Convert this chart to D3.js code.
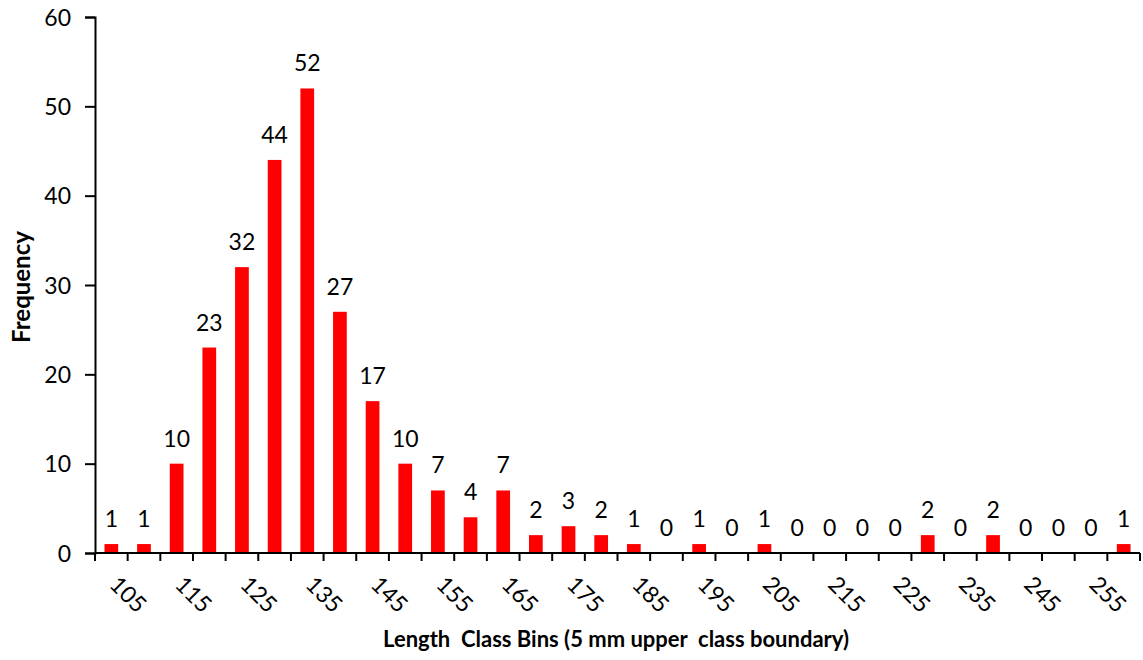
<!DOCTYPE html>
<html><head><meta charset="utf-8">
<script src="https://cdn.jsdelivr.net/npm/d3@7"></script>
<style>body{margin:0;background:#fff}svg{display:block}text{font-family:Lato,"Open Sans",sans-serif}</style>
</head><body>
<svg id="c" width="1143" height="660"></svg>
<script>
const categories = [105,110,115,120,125,130,135,140,145,150,155,160,165,170,175,180,185,190,195,200,205,210,215,220,225,230,235,240,245,250,255,260];
const frequency = [1,1,10,23,32,44,52,27,17,10,7,4,7,2,3,2,1,0,1,0,1,0,0,0,0,2,0,2,0,0,0,1];
const yTicks = [0,10,20,30,40,50,60];
const tickLabels = [105,115,125,135,145,155,165,175,185,195,205,215,225,235,245,255];

const svg = d3.select("#c");
const m = {l:95, r:3, t:17, b:107};
const W = 1143, H = 660;
const x = d3.scaleBand().domain(categories).range([m.l, W - m.r]).paddingInner(0.58).paddingOuter(0.29);
const xb = d3.scaleLinear().domain([0, categories.length]).range([m.l, W - m.r]);
const y = d3.scaleLinear().domain([0,60]).range([H - m.b, m.t]);
const fs = 23;

// bars
svg.selectAll("rect.bar").data(categories).join("rect")
  .attr("x", d => x(d)).attr("width", x.bandwidth())
  .attr("y", (d,i) => y(frequency[i])).attr("height", (d,i) => y(0) - y(frequency[i]))
  .attr("fill", "#ff0000");

// data labels
svg.selectAll("text.lbl").data(categories).join("text")
  .attr("x", d => x(d) + x.bandwidth()/2).attr("y", (d,i) => y(frequency[i]) - 17)
  .attr("text-anchor","middle").attr("font-size", fs).text((d,i) => frequency[i]);

// y axis
const ya = svg.append("g").attr("transform", `translate(${m.l},0)`)
  .call(d3.axisLeft(y).tickValues(yTicks).tickSize(10).tickPadding(14));
ya.selectAll("text").attr("font-size", fs).attr("font-family","Lato").attr("fill","#000").attr("dy","0.35em");
ya.selectAll("line,path").attr("stroke","#000").attr("stroke-width",2);

// x axis line + boundary ticks
const xa = svg.append("g");
xa.append("line").attr("x1", m.l).attr("x2", W - m.r).attr("y1", y(0)).attr("y2", y(0)).attr("stroke","#000").attr("stroke-width",2);
xa.selectAll("line.t").data(d3.range(categories.length + 1)).join("line")
  .attr("x1", d => xb(d)).attr("x2", d => xb(d)).attr("y1", y(0)).attr("y2", y(0) + 8)
  .attr("stroke","#000").attr("stroke-width",2);
xa.selectAll("text").data(tickLabels).join("text")
  .attr("transform", d => `translate(${x(d) + x.bandwidth()/2 - 3},${y(0) + 33}) rotate(45)`)
  .attr("font-size", fs).attr("text-anchor","start").text(d => d);

// titles
svg.append("text").attr("x", 616).attr("y", 647).attr("text-anchor","middle")
  .attr("font-size", 22).attr("font-weight","bold").style("white-space","pre")
  .text("Length  Class Bins (5 mm upper  class boundary)");
svg.append("text").attr("transform","translate(30,287) rotate(-90)").attr("text-anchor","middle")
  .attr("font-size", 24).attr("font-weight","bold").text("Frequency");
</script>
</body></html>
